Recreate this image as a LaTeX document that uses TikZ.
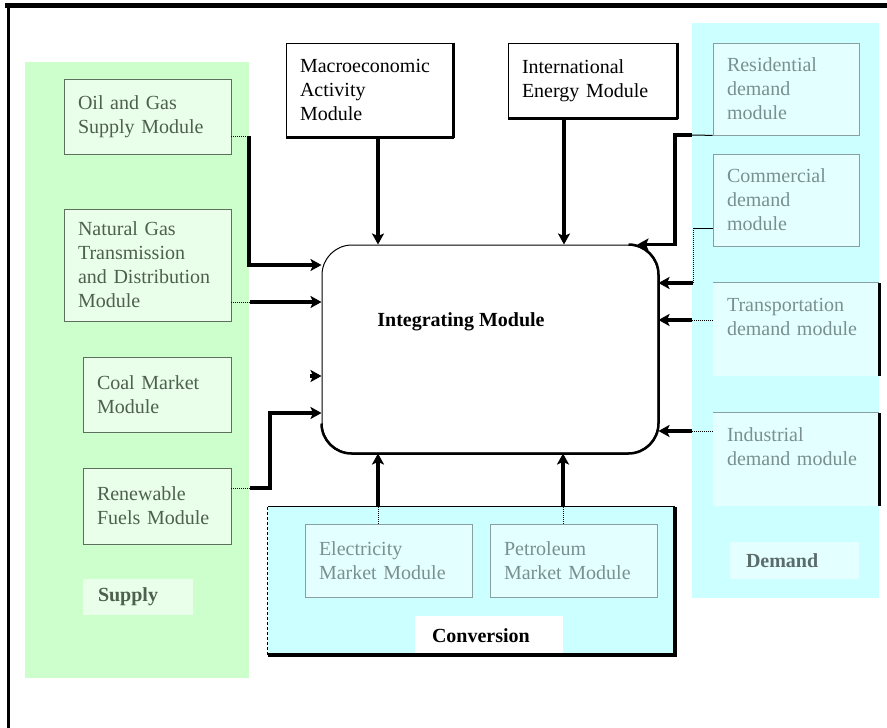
\documentclass[tikz,border=0pt]{standalone}
\usepackage{fontspec}
\setmainfont{Liberation Serif}
\usetikzlibrary{arrows.meta}

\definecolor{supplybg}{HTML}{CCFFCC}
\definecolor{supplybox}{HTML}{EAFFEA}
\definecolor{supplyline}{HTML}{5F6F5F}
\definecolor{supplytext}{HTML}{4F5F4F}
\definecolor{cyanbg}{HTML}{CCFFFF}
\definecolor{cyanbox}{HTML}{E4FFFF}
\definecolor{cyanline}{HTML}{8AA0A0}
\definecolor{cyantext}{HTML}{7A9090}
\definecolor{demtext}{HTML}{5A6C6C}

\begin{document}
\begin{tikzpicture}[x=1pt,y=-1pt,
  every node/.style={font=\fontsize{20}{24}\selectfont},
  area/.style={fill=#1, inner sep=0pt},
  modbox/.style={align=left, inner xsep=14pt, inner ysep=0pt},
  lbl/.style={align=left, inner ysep=0pt, font=\fontsize{20}{24}\selectfont\bfseries},
  dashedge/.style 2 args={append after command={
      (\tikzlastnode.north east) edge[draw=#1, line width=#2, densely dashed] (\tikzlastnode.south east)
      (\tikzlastnode.south east) edge[draw=#1, line width=#2, densely dashed] (\tikzlastnode.south west)}},
  boldedge/.style={append after command={
      (\tikzlastnode.north east) edge[line width=3pt] (\tikzlastnode.south east)
      (\tikzlastnode.south east) edge[line width=3pt] (\tikzlastnode.south west)}},
  supmod/.style={modbox, draw=supplyline, line width=0.8pt, fill=supplybox, text=supplytext,
      dashedge={supplyline}{1.4pt}},
  cyanmod/.style={modbox, draw=cyanline, line width=0.8pt, fill=cyanbox, text=cyantext},
  topmod/.style={modbox, draw=black, line width=1pt, fill=white, text=black, boldedge},
  feed/.style={line width=3.5pt, -{Stealth[length=11pt, width=12pt, inset=2.5pt]}},
  thinlink/.style={line width=1pt, densely dotted},
]
\useasboundingbox (0,0) rectangle (887,728);
\fill[white] (0,0) rectangle (887,728);

% outer frame (top and left rules)
\draw[line width=4.5pt] (5,5.5) -- (887,5.5);
\draw[line width=2.5pt] (8.5,4) -- (8.5,728);

% group backgrounds
\node[area=supplybg, minimum width=224pt, minimum height=616pt] (supply) at (137,370) {};
\node[area=cyanbg, minimum width=187pt, minimum height=575pt] (demand) at (785.5,310.5) {};
\node[area=cyanbg, minimum width=407pt, minimum height=148pt] (conv) at (471.5,581) {};
\draw[white, densely dashed, line width=1pt] (supply.north east) -- (supply.south east) -- (supply.south west);
\draw[white, densely dashed, line width=1pt] (demand.south east) -- (demand.south west);

% supply modules
\node[supmod, text width=139pt, minimum height=75pt] (oil) at (147.5,116.5) {Oil and Gas\\Supply Module};
\node[supmod, text width=139pt, minimum height=112pt] (ngas) at (147.5,265) {Natural Gas\\Transmission\\and Distribution\\Module};
\node[supmod, text width=120pt, minimum height=75pt] (coal) at (157,394.5) {Coal Market\\Module};
\node[supmod, text width=120pt, minimum height=76pt] (renew) at (157,506) {Renewable\\Fuels Module};
\node[lbl, fill=supplybox, text=supplytext, inner xsep=15pt, text width=80pt, minimum height=36pt] (supplylbl) at (138,597) {Supply};

% external modules
\node[topmod, text width=139pt, minimum height=94pt] (macro) at (369.5,90) {Macroeconomic\\Activity\\Module};
\node[topmod, text width=141pt, minimum height=75pt] (intl) at (592.5,80.5) {International\\Energy Module};

% central module
\node[draw, line width=1pt, rounded corners=30pt, minimum width=336pt, minimum height=208pt, fill=white] (integ) at (490,349) {};
\draw[line width=2.5pt, rounded corners=30pt] ([xshift=-30pt]integ.north east) -- (integ.north east)
  -- (integ.south east) -- (integ.south west) -- ([yshift=30pt]integ.south west);
\node[font=\fontsize{20}{24}\selectfont\bfseries] (integlbl) at (461,322) {Integrating Module};

% conversion modules
\node[cyanmod, text width=139pt, minimum height=73pt] (elec) at (388.5,560.5) {Electricity\\Market Module};
\node[cyanmod, text width=139pt, minimum height=73pt] (petro) at (573.5,560.5) {Petroleum\\Market Module};
\node[lbl, fill=white, text=black, inner xsep=17pt, text width=114pt, minimum height=39pt] (convlbl) at (489,635.5) {Conversion};
\draw[line width=1pt] (conv.north west) -- (conv.north east);
\draw[line width=1.2pt, densely dashed] (conv.north west) -- (conv.south west);
\draw[line width=3.5pt] (conv.north east) -- (conv.south east) -- (conv.south west);

% demand modules
\node[cyanmod, dashedge={cyanline}{1.2pt}, text width=118pt, minimum height=92pt] (res) at (786,89) {Residential\\demand\\module};
\node[cyanmod, dashedge={cyanline}{1.2pt}, text width=118pt, minimum height=92pt] (comm) at (786,200) {Commercial\\demand\\module};
\node[modbox, fill=cyanbox, text=cyantext, text width=138pt, minimum height=93pt, text depth=50pt] (trans) at (796,329.5) {Transportation\\demand module};
\node[modbox, fill=cyanbox, text=cyantext, text width=138pt, minimum height=93pt, text depth=50pt] (ind) at (796,459.5) {Industrial\\demand module};
\foreach \m in {trans,ind}{
  \draw[cyanline, line width=1pt] (\m.north west) -- (\m.north east);
  \draw[line width=3pt] (\m.north east) -- (\m.south east);
}
\node[lbl, fill=cyanbox, text=demtext, inner xsep=16pt, text width=97pt, minimum height=37pt] (demlbl) at (794.5,560.5) {Demand};

% supply links into the integrating module
\draw[thinlink] (oil.east |- 0,136) -- (249,136);
\draw[feed] (249,136) |- (integ.west |- 0,265);
\draw[thinlink] (ngas.east |- 0,302) -- (250,302);
\draw[feed] (250,302) -- (integ.west |- 0,302);
\draw[feed] (310,376) -- (integ.west |- 0,376);
\draw[thinlink] (renew.east |- 0,488) -- (250,488);
\draw[feed] (250,488) -- (270,488) |- (integ.west |- 0,413);

% external links
\coordinate (macroout) at ([xshift=8.5pt]macro.south);
\draw[feed] (macroout) -- (macroout |- integ.north);
\coordinate (intlout) at ([xshift=-28.5pt]intl.south);
\draw[feed] (intlout) -- (intlout |- integ.north);

% conversion links
\coordinate (elecout) at ([xshift=-10.5pt]elec.north);
\draw[thinlink] (elecout) -- (elecout |- conv.north);
\draw[feed] (elecout |- conv.north) -- (elecout |- integ.south);
\coordinate (petroout) at ([xshift=-10.5pt]petro.north);
\draw[thinlink] (petroout) -- (petroout |- conv.north);
\draw[feed] (petroout |- conv.north) -- (petroout |- integ.south);

% demand links
\draw[line width=1pt] (res.south west) -- (692,135);
\coordinate (restip) at ([xshift=-21pt]integ.north east);
\draw[feed] (692,135) -- (675,135) |- (restip);
\draw[line width=1pt] (comm.west |- 0,228) -- (693,228);
\draw[thinlink] (693,228) -- (693,283);
\draw[feed] (693,283) -- (integ.east |- 0,283);
\draw[thinlink] (trans.west |- 0,320) -- (692,320);
\draw[feed] (692,320) -- (integ.east |- 0,320);
\draw[thinlink] (ind.west |- 0,431) -- (692,431);
\draw[feed] (692,431) -- (integ.east |- 0,431);
\end{tikzpicture}
\end{document}
